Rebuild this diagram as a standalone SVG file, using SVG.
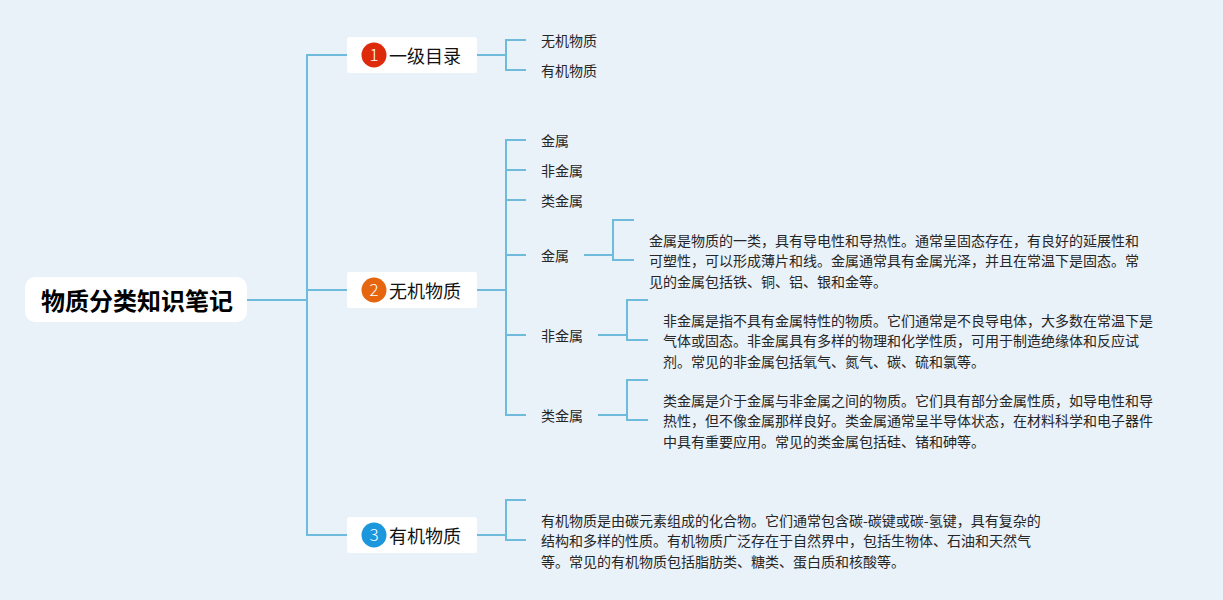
<svg xmlns="http://www.w3.org/2000/svg" width="1223" height="600" viewBox="0 0 1223 600">
<style>
text{font-family:"Noto Sans CJK SC","Noto Sans",sans-serif}
.c{fill:none;stroke:#6fbbdc;stroke-width:2}
.n{fill:#fff}
.t{font-size:14px;fill:#262626}
.h{font-size:18px;fill:#111}
.r{font-size:24px;font-weight:700;fill:#000}
.b{font-size:17px;font-weight:300;fill:#fff;text-anchor:middle}
</style>
<rect width="1223" height="600" fill="#e9f1f9"/>
<g id="connectors">
<path class="c" d="M247 300H307M347 55H307V535H347M307 290H347"/>
<path class="c" d="M477 55H506M526 40H506V70H526"/>
<path class="c" d="M477 290H506M526 140H506V415H526M506 170H526M506 200H526M506 255H526M506 335H526"/>
<path class="c" d="M584 255H613M634 220H613V260H634"/>
<path class="c" d="M598 335H627M648 300H627V340H648"/>
<path class="c" d="M598 415H627M648 380H627V420H648"/>
<path class="c" d="M477 535H506M526 500H506V540H526"/>
</g>
<g id="root"><rect class="n" x="25" y="277" width="222" height="45" rx="10"/><text class="r" x="41" y="310">物质分类知识笔记</text></g>
<g id="n1"><rect class="n" x="347" y="37" width="130" height="36" rx="2"/><circle cx="374" cy="55" r="12.5" fill="#dd2a0b"/><text class="b" x="374" y="61">1</text><text class="h" x="389" y="63">一级目录</text></g>
<g id="n2"><rect class="n" x="347" y="272" width="130" height="36" rx="2"/><circle cx="374" cy="290" r="12.5" fill="#e5660f"/><text class="b" x="374" y="296">2</text><text class="h" x="389" y="298">无机物质</text></g>
<g id="n3"><rect class="n" x="347" y="517" width="130" height="36" rx="2"/><circle cx="374" cy="535" r="12.5" fill="#1c96dc"/><text class="b" x="374" y="541">3</text><text class="h" x="389" y="543">有机物质</text></g>
<g id="n1a"><text class="t" x="541" y="46">无机物质</text></g>
<g id="n1b"><text class="t" x="541" y="76">有机物质</text></g>
<g id="n2a"><text class="t" x="541" y="146">金属</text></g>
<g id="n2b"><text class="t" x="541" y="176">非金属</text></g>
<g id="n2c"><text class="t" x="541" y="206">类金属</text></g>
<g id="n2d"><text class="t" x="541" y="261">金属</text></g>
<g id="n2e"><text class="t" x="541" y="341">非金属</text></g>
<g id="n2f"><text class="t" x="541" y="421">类金属</text></g>
<g id="d1"><text class="t" x="649" y="246">金属是物质的一类，具有导电性和导热性。通常呈固态存在，有良好的延展性和</text><text class="t" x="649" y="266">可塑性，可以形成薄片和线。金属通常具有金属光泽，并且在常温下是固态。常</text><text class="t" x="649" y="287">见的金属包括铁、铜、铝、银和金等。</text></g>
<g id="d2"><text class="t" x="663" y="326">非金属是指不具有金属特性的物质。它们通常是不良导电体，大多数在常温下是</text><text class="t" x="663" y="346">气体或固态。非金属具有多样的物理和化学性质，可用于制造绝缘体和反应试</text><text class="t" x="663" y="367">剂。常见的非金属包括氧气、氮气、碳、硫和氯等。</text></g>
<g id="d3"><text class="t" x="663" y="406">类金属是介于金属与非金属之间的物质。它们具有部分金属性质，如导电性和导</text><text class="t" x="663" y="426">热性，但不像金属那样良好。类金属通常呈半导体状态，在材料科学和电子器件</text><text class="t" x="663" y="447">中具有重要应用。常见的类金属包括硅、锗和砷等。</text></g>
<g id="d4"><text class="t" x="541" y="526">有机物质是由碳元素组成的化合物。它们通常包含碳-碳键或碳-氢键，具有复杂的</text><text class="t" x="541" y="546">结构和多样的性质。有机物质广泛存在于自然界中，包括生物体、石油和天然气</text><text class="t" x="541" y="567">等。常见的有机物质包括脂肪类、糖类、蛋白质和核酸等。</text></g>
</svg>
